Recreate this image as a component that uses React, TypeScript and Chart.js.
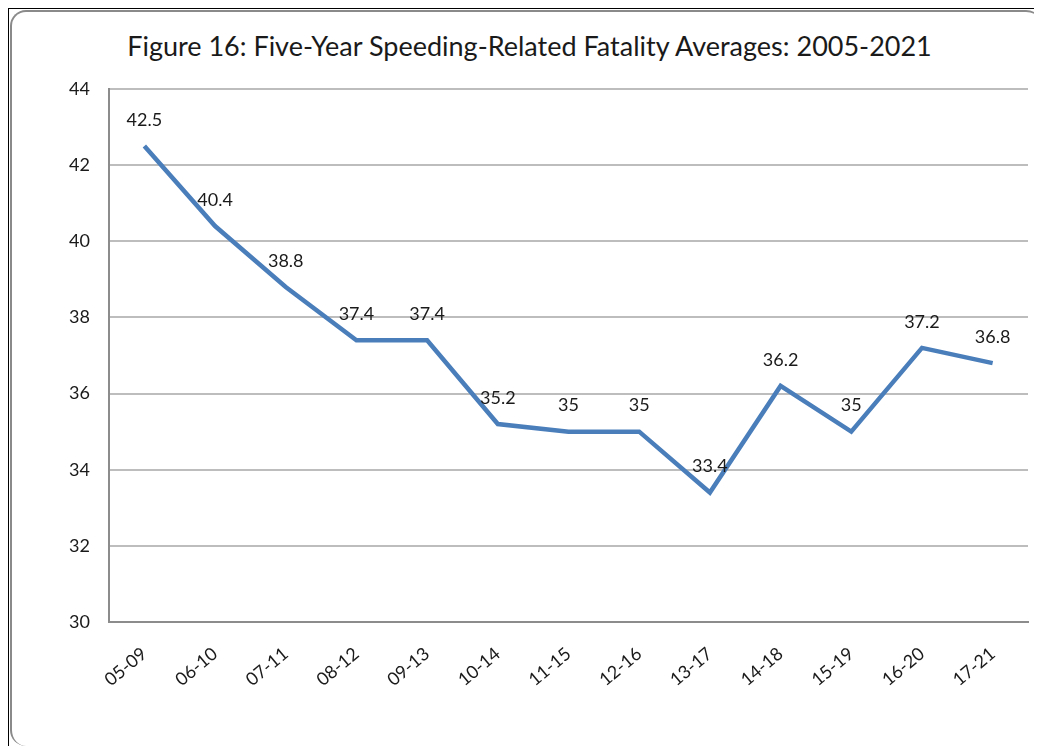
import React, { useEffect, useRef } from "react";
import { Chart, registerables } from "chart.js";

Chart.register(...registerables);

const categories = ["05-09", "06-10", "07-11", "08-12", "09-13", "10-14", "11-15", "12-16", "13-17", "14-18", "15-19", "16-20", "17-21"];
const averages = [42.5, 40.4, 38.8, 37.4, 37.4, 35.2, 35, 35, 33.4, 36.2, 35, 37.2, 36.8];
const yTicks = [30, 32, 34, 36, 38, 40, 42, 44];
const titleText = "Figure 16: Five-Year Speeding-Related Fatality Averages: 2005-2021";

const FONT = "Lato, 'Open Sans', sans-serif";

const labelPlugin = {
  id: "pointLabels",
  afterDatasetsDraw(chart: any) {
    const ctx = chart.ctx;
    const meta = chart.getDatasetMeta(0);
    ctx.save();
    ctx.font = `18px ${FONT}`;
    ctx.fillStyle = "#1a1a1a";
    ctx.textAlign = "center";
    ctx.textBaseline = "middle";
    meta.data.forEach((pt: any, i: number) => {
      ctx.fillText(String(averages[i]), pt.x, pt.y - 26);
    });
    ctx.restore();
  },
};

export default function App() {
  const ref = useRef<HTMLCanvasElement | null>(null);
  useEffect(() => {
    document.body.style.overflow = "hidden";
    document.documentElement.style.overflow = "hidden";
    if (!ref.current) return;
    const chart = new Chart(ref.current, {
      type: "line",
      data: {
        labels: categories,
        datasets: [
          {
            data: averages,
            borderColor: "#4a7ebb",
            borderWidth: 4.5,
            pointRadius: 0,
            tension: 0,
            fill: false,
          },
        ],
      },
      options: {
        animation: false,
        responsive: false,
        layout: { padding: { left: 50, right: 14, top: 81, bottom: 0 } },
        plugins: { legend: { display: false }, tooltip: { enabled: false }, title: { display: false } },
        scales: {
          x: {
            offset: true,
            grid: { display: false },
            border: { display: true, color: "#8c8c8c", width: 2 },
            ticks: {
              font: { family: FONT, size: 18 },
              color: "#1a1a1a",
              minRotation: 40,
              maxRotation: 40,
              padding: 13,
            },
            afterFit(scale: any) {
              scale.height = 116;
            },
          },
          y: {
            min: 30,
            max: 44,
            afterBuildTicks(scale: any) {
              scale.ticks = yTicks.map((v) => ({ value: v }));
            },
            grid: { color: "#bdbdbd", lineWidth: 2, drawTicks: false },
            border: { display: true, color: "#8c8c8c", width: 2 },
            ticks: {
              font: { family: FONT, size: 18 },
              color: "#1a1a1a",
              padding: 19,
            },
            afterFit(scale: any) {
              scale.width = 51;
            },
          },
        },
      },
      plugins: [labelPlugin],
    });
    return () => chart.destroy();
  }, []);

  return (
    <div style={{ position: "relative", width: 1034, height: 738, overflow: "visible" }}>
      <div
        style={{
          position: "absolute",
          left: -1,
          top: -1,
          width: 1036,
          height: 740,
          borderTop: "2px solid #000",
          borderLeft: "2px solid #000",
          boxSizing: "border-box",
        }}
      />
      <div
        style={{
          position: "absolute",
          left: 2,
          top: 2,
          width: 1032,
          height: 736,
          borderTop: "2px solid #8a8a8a",
          borderLeft: "2px solid #8a8a8a",
          borderTopLeftRadius: 16,
          borderBottomLeftRadius: 16,
          borderTopRightRadius: 16,
          boxSizing: "border-box",
        }}
      />
      <div
        style={{
          position: "absolute",
          left: 0,
          top: 22,
          width: 1043,
          textAlign: "center",
          fontFamily: FONT,
          fontSize: 27,
          color: "#1a1a1a",
          lineHeight: "32px",
          whiteSpace: "nowrap",
        }}
      >
        {titleText}
      </div>
      <canvas ref={ref} width={1034} height={730} style={{ position: "absolute", left: 0, top: 0 }} />
    </div>
  );
}
